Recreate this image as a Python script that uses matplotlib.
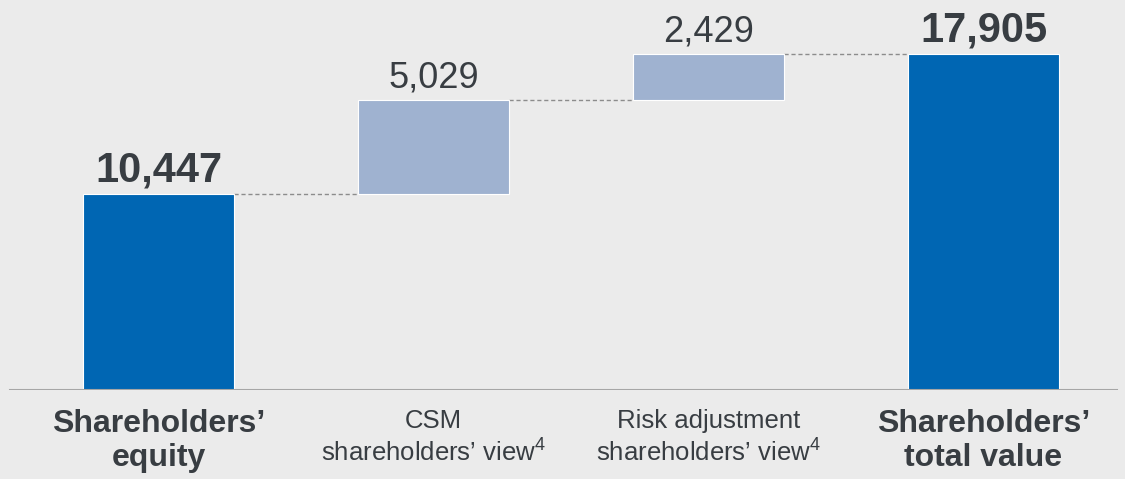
import numpy as np
import matplotlib.pyplot as plt

plt.rcParams['font.family'] = ['Liberation Sans', 'DejaVu Sans']
plt.rcParams['mathtext.fontset'] = 'custom'
plt.rcParams['mathtext.rm'] = 'Liberation Sans'
plt.rcParams['mathtext.it'] = 'Liberation Sans'

# waterfall data (EUR m)
categories = ["Shareholders’\nequity",
              "CSM\nshareholders’ view$^4$",
              "Risk adjustment\nshareholders’ view$^4$",
              "Shareholders’\ntotal value"]
values = [10447, 5029, 2429, 17905]
is_total = [True, False, False, True]
value_labels = ["10,447", "5,029", "2,429", "17,905"]

bg = '#ebebeb'
dark_blue = '#0066b3'
light_blue = '#9fb2d0'
txt = '#383d42'

# bottoms for the floating bars
bottoms = []
running = 0
for v, tot in zip(values, is_total):
    if tot:
        bottoms.append(0)
        running = v
    else:
        bottoms.append(running)
        running += v
bottoms = np.array(bottoms)
tops = bottoms + np.array(values)

fig = plt.figure(figsize=(11.25, 4.79), dpi=100, facecolor=bg)
ax = fig.add_axes([0, 89 / 479, 1, 390 / 479])
ax.set_facecolor(bg)

x = np.arange(len(values))
colors = [dark_blue if t else light_blue for t in is_total]
ax.bar(x, values, bottom=bottoms, width=0.55, color=colors,
       edgecolor='white', linewidth=0.8, zorder=3)

# dashed connectors
for i in range(len(values) - 1):
    ax.plot([x[i] + 0.275, x[i + 1] - 0.275], [tops[i], tops[i]],
            ls=(0, (3, 2)), color='#8c8c8c', lw=1, zorder=2)

# value labels
for i, (lab, tot) in enumerate(zip(value_labels, is_total)):
    ax.annotate(lab, (x[i], tops[i]), xytext=(0, 9), textcoords='offset points',
                ha='center', va='baseline', color=txt,
                fontsize=30 if tot else 26,
                fontweight='bold' if tot else 'normal')

# category labels under the axis
for i, (lab, tot) in enumerate(zip(categories, is_total)):
    if tot:
        ax.annotate(lab, (x[i], 0), xytext=(0, -14), textcoords='offset points',
                    ha='center', va='top', color=txt, fontsize=23,
                    fontweight='bold', linespacing=1.17, annotation_clip=False)
    else:
        ax.annotate(lab, (x[i], 0), xytext=(0, -14), textcoords='offset points',
                    ha='center', va='top', color=txt, fontsize=18.5,
                    linespacing=1.28, annotation_clip=False)

ax.axhline(0, xmin=10 / 1125, xmax=1117 / 1125, color='#a6a6a6', lw=1.5, zorder=4)

ax.set_xlim(-158.5 / 275, (1125 - 158.5) / 275)
ax.set_ylim(0, 390 / (196 / 10447))
ax.axis('off')

fig.savefig('out.png', dpi=100, facecolor=bg)
